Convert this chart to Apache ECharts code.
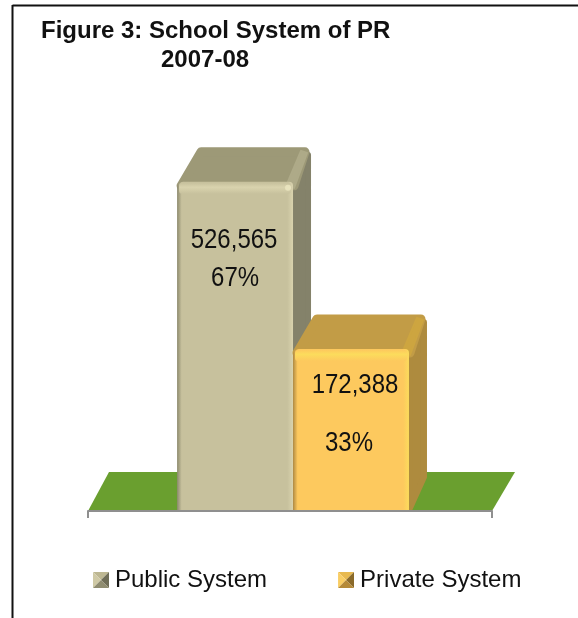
<!DOCTYPE html>
<html>
<head>
<meta charset="utf-8">
<style>html,body{margin:0;padding:0;background:#fff}#chart{width:578px;height:618px}</style>
<script src="https://cdn.jsdelivr.net/npm/echarts@6/dist/echarts.min.js"></script>
</head>
<body>
<div id="chart"></div>
<script>
// School system of PR, 2007-08: enrolment share by system
const categories = ['2007-08'];
const systemNames = ['Public System', 'Private System'];
const shareValues = [67, 33];
const studentCounts = [526565, 172388];
const titleLines = ['Figure 3: School System of PR', '2007-08'];

const FONT = '"Liberation Sans", Arial, sans-serif';
const INK = '#111111';
const DEPTH_X = 18;
const DEPTH_Y = 36;

const palettes = [
  { front: '#c7c19d', edge: '#8d8a6e', glow: '#d9d3ae', shine: '#ece7c2', shineOpacity: 0.8, top: '#9d9977',
    bevel: '#aeaa88', side: '#84826a', iconL: '#cfc9a5', iconT: '#bdb792', iconR: '#6f6d57', iconB: '#8f8c70',
    textRows: [[58, -1], [96, 0]] },
  { front: '#fdc95e', edge: '#b08a42', glow: '#fcdc5c', shine: '#fde36a', shineOpacity: 0, top: '#c29c46',
    bevel: '#cda540', side: '#ae8b3e', iconL: '#f9cd63', iconT: '#e8b94f', iconR: '#8a6a2a', iconB: '#b58a38',
    textRows: [[36, 4], [94, -2]] }
];

// Bevelled square used as the legend marker, one per system
function bevelIcon(p) {
  const svg = '<svg xmlns="http://www.w3.org/2000/svg" width="16" height="16">' +
    `<polygon points="0,0 16,0 8,8" fill="${p.iconT}"/>` +
    `<polygon points="0,0 8,8 0,16" fill="${p.iconL}"/>` +
    `<polygon points="16,0 16,16 8,8" fill="${p.iconR}"/>` +
    `<polygon points="0,16 16,16 8,8" fill="${p.iconB}"/></svg>`;
  return 'image://data:image/svg+xml;charset=utf-8,' + encodeURIComponent(svg);
}

function poly(points, fill, round) {
  return {
    type: 'polygon',
    shape: { points },
    style: { fill, stroke: round ? fill : null, lineWidth: round || 0, lineJoin: 'round' }
  };
}

function horizontal(stops) {
  return { type: 'linear', x: 0, y: 0, x2: 1, y2: 0, colorStops: stops };
}

function vertical(stops) {
  return { type: 'linear', x: 0, y: 0, x2: 0, y2: 1, colorStops: stops };
}

// One extruded column: right side, top face, front face, then its two text rows
function renderColumn(index) {
  return function (params, api) {
    const p = palettes[index];
    const top = api.coord([api.value(0), api.value(1)]);
    const base = api.coord([api.value(0), 0]);
    const band = api.size([1, 0])[0];
    const w = band * 0.287;
    const x0 = top[0] + (index - 1) * w + band * 0.0075;
    const x1 = x0 + w;
    const yT = top[1];
    const yB = base[1];
    const cx = (x0 + x1) / 2;

    const children = [
      poly([[x1 + 1, yT + 6], [x1 + DEPTH_X - 3, yT - DEPTH_Y + 9], [x1 + DEPTH_X - 3, yB - DEPTH_Y + 2], [x1 + 1, yB - 3]], p.side, 6),
      poly([[x0 + 4, yT + 4], [x0 + DEPTH_X + 6, yT - DEPTH_Y + 6], [x1 + DEPTH_X - 6, yT - DEPTH_Y + 6], [x1 + 1, yT + 4]], p.top, 9),
      poly([[x1 - 6, yT + 2], [x1 + DEPTH_X - 10, yT - DEPTH_Y + 5], [x1 + DEPTH_X - 4, yT - DEPTH_Y + 7], [x1 + 1, yT + 6]], p.bevel, 2),
      {
        type: 'rect',
        shape: { x: x0, y: yT, width: w, height: yB - yT, r: [6, 4, 0, 0] },
        style: {
          fill: horizontal([
            { offset: 0, color: p.edge },
            { offset: 0.04, color: p.front },
            { offset: 0.95, color: p.front },
            { offset: 1, color: p.glow }
          ])
        }
      },
      {
        type: 'rect',
        shape: { x: x0 + 2, y: yT + 1, width: w - 4, height: 11, r: 3 },
        style: {
          fill: vertical([
            { offset: 0, color: p.front },
            { offset: 0.4, color: p.glow },
            { offset: 1, color: p.front }
          ])
        }
      },
      {
        type: 'circle',
        shape: { cx: x1 - 5, cy: yT + 6, r: 3 },
        style: { fill: p.shine, opacity: p.shineOpacity }
      }
    ];

    const rows = [studentCounts[index].toLocaleString('en-US'), shareValues[index] + '%'];
    rows.forEach(function (text, r) {
      children.push({
        type: 'text',
        x: cx + p.textRows[r][1],
        y: yT + p.textRows[r][0],
        scaleY: 1.18,
        style: {
          text,
          x: 0,
          y: 0,
          align: 'center',
          verticalAlign: 'middle',
          font: '24px ' + FONT,
          fill: INK
        }
      });
    });
    return { type: 'group', children };
  };
}

// Green floor the columns stand on, spanning the category band
function renderFloor(params) {
  const g = params.coordSys;
  const y = g.y + g.height;
  const d = 39;
  return poly([[g.x, y], [g.x + g.width, y], [g.x + g.width + 23, y - d], [g.x + 21, y - d]], '#6a9f2f');
}

const chart = echarts.init(document.getElementById('chart'), null, { renderer: 'canvas' });
chart.setOption({
  animation: false,
  backgroundColor: '#ffffff',
  title: [
    { text: titleLines[0], left: 41, top: 19, padding: 0, textStyle: { fontFamily: FONT, fontWeight: 'bold', fontSize: 24, color: INK } },
    { text: titleLines[1], left: 161, top: 48, padding: 0, textStyle: { fontFamily: FONT, fontWeight: 'bold', fontSize: 24, color: INK } }
  ],
  grid: { left: 88, width: 404, top: 118, height: 393 },
  xAxis: {
    type: 'category',
    data: categories,
    z: 5,
    axisLine: { lineStyle: { color: '#8f8f8f', width: 2 } },
    axisTick: { show: true, length: 7, lineStyle: { color: '#8f8f8f', width: 2 } },
    axisLabel: { show: false }
  },
  yAxis: { type: 'value', min: 0, max: 80, show: false, splitLine: { show: false } },
  legend: {
    data: systemNames.map(function (name, i) { return { name, icon: bevelIcon(palettes[i]) }; }),
    left: 93,
    top: 568,
    padding: 0,
    itemWidth: 16,
    itemHeight: 16,
    itemGap: 71,
    selectedMode: false,
    textStyle: { fontFamily: FONT, fontSize: 24, color: INK, padding: [0, 0, 0, 1] }
  },
  graphic: [
    { type: 'line', silent: true, shape: { x1: 12.5, y1: 5.5, x2: 578, y2: 5.5 }, style: { stroke: '#111111', lineWidth: 2 } },
    { type: 'line', silent: true, shape: { x1: 12.5, y1: 5, x2: 12.5, y2: 618 }, style: { stroke: '#111111', lineWidth: 2 } }
  ],
  series: [
    { type: 'custom', name: 'floor', renderItem: renderFloor, data: [[0, 0]], silent: true, z: 1 },
    {
      type: 'custom', name: systemNames[0], renderItem: renderColumn(0),
      data: [[0, shareValues[0]]], encode: { x: 0, y: 1 },
      itemStyle: { color: palettes[0].front }, z: 2
    },
    {
      type: 'custom', name: systemNames[1], renderItem: renderColumn(1),
      data: [[0, shareValues[1]]], encode: { x: 0, y: 1 },
      itemStyle: { color: palettes[1].front }, z: 3
    }
  ]
});
</script>
</body>
</html>
